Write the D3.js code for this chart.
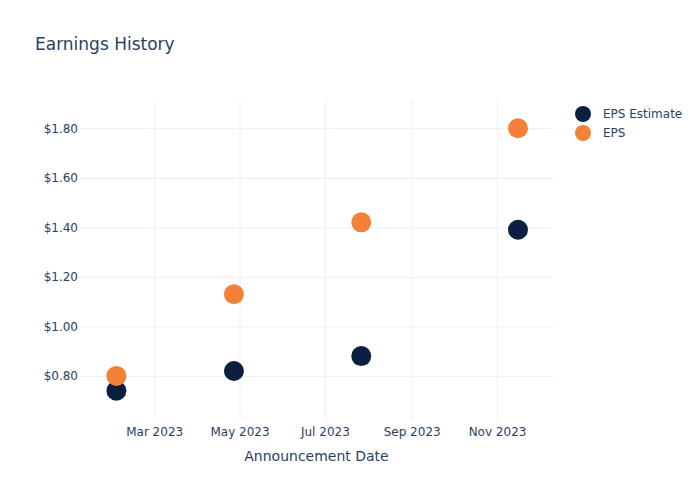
<!DOCTYPE html>
<html>
<head>
<meta charset="utf-8">
<script src="https://cdn.jsdelivr.net/npm/d3@7"></script>
<style>
  html, body { margin: 0; padding: 0; background: #fff; }
  svg { display: block; font-family: "DejaVu Sans", verdana, arial, sans-serif; }
</style>
</head>
<body>
<svg id="chart" width="700" height="500"></svg>
<script>
// ---- data ----
const dates = ["2023-02-02", "2023-04-27", "2023-07-27", "2023-11-16"];
const epsEstimate = [0.74, 0.82, 0.88, 1.39];
const epsActual = [0.80, 1.13, 1.42, 1.80];
const seriesNames = ["EPS Estimate", "EPS"];
const seriesColors = ["#0b1f41", "#f58138"];
const yTicks = [0.8, 1.0, 1.2, 1.4, 1.6, 1.8];
const xTickDates = ["2023-03-01", "2023-05-01", "2023-07-01", "2023-09-01", "2023-11-01"];
const xDomain = ["2023-01-07", "2023-12-11"];
const yDomain = [0.622, 1.914];

const FONT = '"DejaVu Sans", verdana, arial, sans-serif';
const parse = d3.utcParse("%Y-%m-%d");
const svg = d3.select("#chart");
const m = { l: 80, r: 147, t: 100, b: 80 };
const W = 700, H = 500;

const x = d3.scaleUtc().domain(xDomain.map(parse)).range([m.l, W - m.r]);
const y = d3.scaleLinear().domain(yDomain).range([H - m.b, m.t]);

const textColor = "#2a3f5f";
const gridColor = "#ebf0f8";

// title
svg.append("text").attr("x", 35).attr("y", 50)
  .attr("font-size", 17).attr("fill", textColor).text("Earnings History");

// x grid + axis
const xAxis = d3.axisBottom(x).tickValues(xTickDates.map(parse))
  .tickFormat(d3.utcFormat("%b %Y")).tickSize(-(H - m.t - m.b)).tickPadding(7);
const gx = svg.append("g").attr("transform", `translate(0,${H - m.b})`).call(xAxis);
gx.select(".domain").remove();
gx.selectAll(".tick line").attr("stroke", gridColor).attr("stroke-width", 1);
gx.selectAll(".tick text").attr("fill", textColor).attr("font-size", 12)
  .attr("font-family", FONT);

// y grid + axis
const yAxis = d3.axisLeft(y).tickValues(yTicks)
  .tickFormat(d => "$" + d3.format(".2f")(d)).tickSize(-(W - m.l - m.r)).tickPadding(2);
const gy = svg.append("g").attr("transform", `translate(${m.l},0)`).call(yAxis);
gy.select(".domain").remove();
gy.selectAll(".tick line").attr("stroke", gridColor).attr("stroke-width", 1);
gy.selectAll(".tick text").attr("fill", textColor).attr("font-size", 12)
  .attr("font-family", FONT);

// axis title
svg.append("text").attr("x", (m.l + W - m.r) / 2).attr("y", 461)
  .attr("text-anchor", "middle").attr("font-size", 14).attr("fill", textColor)
  .text("Announcement Date");

// points
const series = [epsEstimate, epsActual];
series.forEach((vals, si) => {
  svg.append("g").selectAll("circle").data(vals).join("circle")
    .attr("cx", (d, i) => x(parse(dates[i])))
    .attr("cy", d => y(d))
    .attr("r", 10)
    .attr("fill", seriesColors[si]);
});

// legend
const lg = svg.append("g");
seriesNames.forEach((name, i) => {
  const ly = 114 + i * 19;
  lg.append("circle").attr("cx", 583).attr("cy", ly).attr("r", 8).attr("fill", seriesColors[i]);
  lg.append("text").attr("x", 603).attr("y", ly + 4).attr("font-size", 12)
    .attr("fill", textColor).text(name);
});
</script>
</body>
</html>
